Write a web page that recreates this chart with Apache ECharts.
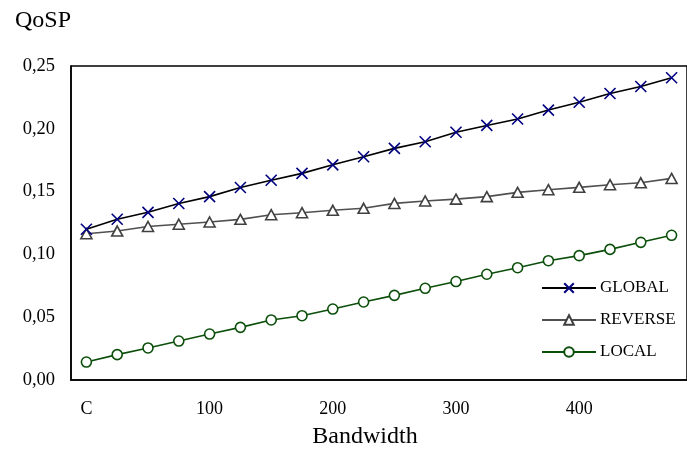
<!DOCTYPE html>
<html>
<head>
<meta charset="utf-8">
<script src="https://cdn.jsdelivr.net/npm/echarts@6/dist/echarts.min.js"></script>
<style>
  html, body { margin: 0; padding: 0; background: #fff; }
  #chart { width: 687px; height: 472px; }
</style>
</head>
<body>
<div id="chart"></div>
<script>
// Bandwidth steps (categories)
const bandwidth = [0, 25, 50, 75, 100, 125, 150, 175, 200, 225, 250, 275, 300, 325, 350, 375, 400, 425, 450, 475];
// Tick labels shown under every fourth category
const xTickLabels = ['C', '100', '200', '300', '400'];
const yTicks = [0, 0.05, 0.10, 0.15, 0.20, 0.25];

// QoSP per scheme
const globalQoSP  = [0.120, 0.128, 0.1335, 0.1405, 0.146, 0.1533, 0.159, 0.1645, 0.1713, 0.1777, 0.1844, 0.1897, 0.1973, 0.2027, 0.2078, 0.2149, 0.2211, 0.2281, 0.2337, 0.2406];
const reverseQoSP = [0.1165, 0.1186, 0.1222, 0.1240, 0.1258, 0.1279, 0.1316, 0.1332, 0.1351, 0.1367, 0.1406, 0.1425, 0.1440, 0.1460, 0.1494, 0.1515, 0.1534, 0.1555, 0.1570, 0.1605];
const localQoSP   = [0.0143, 0.0202, 0.0255, 0.0310, 0.0366, 0.0419, 0.0478, 0.0512, 0.0565, 0.0621, 0.0674, 0.0730, 0.0784, 0.0842, 0.0894, 0.0950, 0.0990, 0.1040, 0.1096, 0.1152];

const FONT = '"Liberation Serif", "Times New Roman", serif';
const cross = 'path://M0,0 L10,10 M10,0 L0,10';

const chart = echarts.init(document.getElementById('chart'));
chart.setOption({
  animation: false,
  backgroundColor: '#ffffff',
  textStyle: { fontFamily: FONT },
  graphic: [
    { type: 'text', left: 15, top: 9, style: { text: 'QoSP', font: '24px ' + FONT, fill: '#000' } },
    { type: 'text', x: 365, y: 437, style: { text: 'Bandwidth', font: '24px ' + FONT, fill: '#000', align: 'center', verticalAlign: 'middle' } }
  ],
  grid: {
    left: 71, top: 66, width: 625, height: 314,
    show: true, borderColor: '#000', borderWidth: 1.5, backgroundColor: 'transparent'
  },
  legend: {
    orient: 'vertical',
    left: 541, top: 278, padding: 0,
    itemWidth: 54, itemHeight: 12, itemGap: 12,
    textStyle: { fontFamily: FONT, fontSize: 17, lineHeight: 20, color: '#000', padding: [0, 0, 0, -1] },
    data: ['GLOBAL', 'REVERSE', 'LOCAL']
  },
  xAxis: {
    type: 'category',
    data: bandwidth,
    boundaryGap: true,
    axisLine: { lineStyle: { color: '#000', width: 1.5 } },
    axisTick: { show: false },
    axisLabel: {
      interval: 3,
      margin: 20,
      fontFamily: FONT, fontSize: 18, color: '#000',
      formatter: (v, i) => xTickLabels[i / 4]
    },
    splitLine: { show: false }
  },
  yAxis: {
    type: 'value',
    min: yTicks[0], max: yTicks[yTicks.length - 1], interval: 0.05,
    axisLine: { show: true, lineStyle: { color: '#000', width: 1.5 } },
    axisTick: { show: false },
    splitLine: { show: false },
    axisLabel: {
      margin: 16,
      fontFamily: FONT, fontSize: 18.5, color: '#000',
      formatter: v => v.toFixed(2).replace('.', ',')
    }
  },
  series: [
    {
      name: 'GLOBAL', type: 'line', data: globalQoSP,
      symbol: cross, symbolSize: 11, showAllSymbol: true,
      lineStyle: { color: '#000', width: 1.6 },
      itemStyle: { color: 'none', borderColor: '#000080', borderWidth: 1.6 },
      z: 4
    },
    {
      name: 'REVERSE', type: 'line', data: reverseQoSP,
      symbol: 'triangle', symbolSize: [11, 10], showAllSymbol: true,
      lineStyle: { color: '#505050', width: 1.6 },
      itemStyle: { color: '#ffffff', borderColor: '#404040', borderWidth: 1.6 },
      z: 3
    },
    {
      name: 'LOCAL', type: 'line', data: localQoSP,
      symbol: 'circle', symbolSize: 10, showAllSymbol: true,
      lineStyle: { color: '#0b4f0b', width: 1.6 },
      itemStyle: { color: '#ffffff', borderColor: '#0b4f0b', borderWidth: 1.6 },
      z: 2
    }
  ]
});
</script>
</body>
</html>
